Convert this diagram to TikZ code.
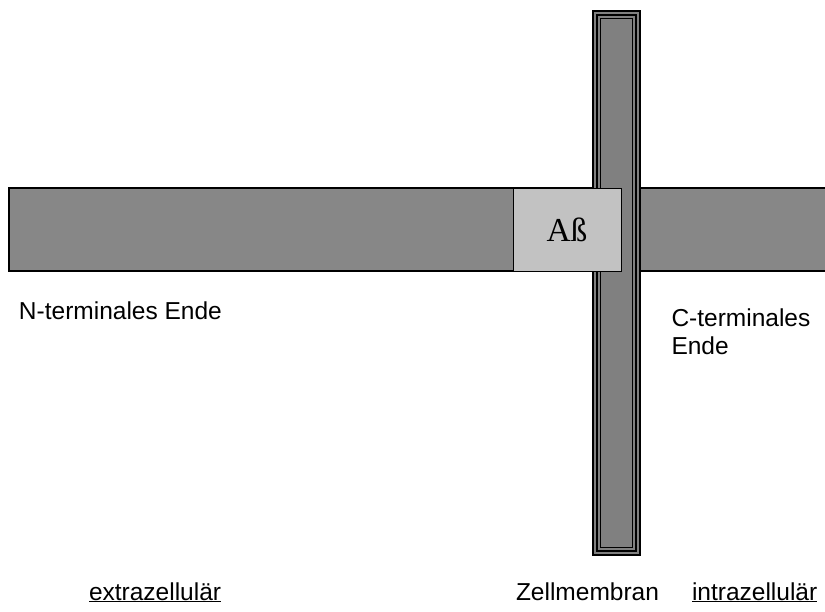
\documentclass[tikz,border=0pt]{standalone}
\usepackage{fontspec}
\setmainfont{Liberation Serif}
\newfontfamily\arialfont{Liberation Sans}
\begin{document}
\begin{tikzpicture}[x=1pt,y=-1pt,
  lbl/.style={font=\arialfont\fontsize{24.5}{28}\selectfont, inner sep=0pt, outer sep=0pt, anchor=base west},
  barfill/.style={fill=black!47, draw=black, line width=1.3pt},
  memline/.style={draw=black, line width=1.6pt},
  abox/.style={fill=black!24, draw=black, line width=0.8pt}]
\useasboundingbox (0,0) rectangle (825,611);
\clip (0,0) rectangle (825,611);
% peptide bar
\path[barfill] (9,188) rectangle (840,271);
% membrane
\fill[black!50] (592,10) rectangle (641,556);
\draw[memline] (593,11) rectangle (640,555);
\draw[memline] (597,15) rectangle (636,551);
\draw[memline] (600.5,18.5) rectangle (632.5,547.5);
% Abeta box
\node[abox, minimum width=108pt, minimum height=83pt, inner sep=0pt, anchor=north west] (ab) at (513,188) {};
\node[inner sep=0pt, anchor=base, font=\fontsize{33.5}{36}\selectfont] (abt) at (567,241.7) {Aß};
% labels
\node[lbl] (nterm) at (19,319.3) {N-terminales Ende};
\node[lbl] (cterm1) at (671.5,326) {C-terminales};
\node[lbl] (cterm2) at (671.5,354.3) {Ende};
\node[lbl] (extra) at (89,600) {\underline{extrazellulär}};
\node[lbl] (zell) at (516,600) {Zellmembran};
\node[lbl] (intra) at (692,600) {\underline{intrazellulär}};
\end{tikzpicture}
\end{document}
